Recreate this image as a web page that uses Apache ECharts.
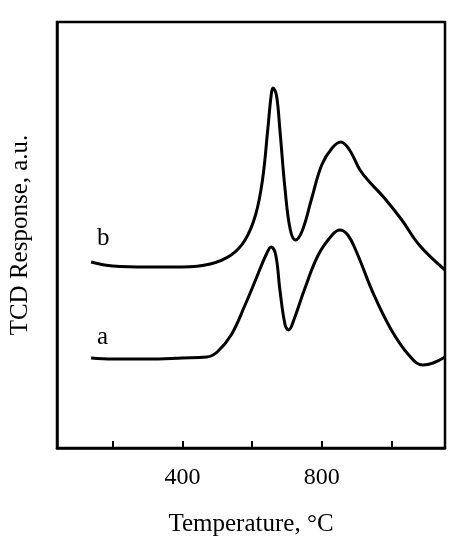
<!DOCTYPE html>
<html>
<head>
<meta charset="utf-8">
<script src="https://cdn.jsdelivr.net/npm/echarts@6/dist/echarts.min.js"></script>
<style>html,body{margin:0;padding:0;background:#fff}#c{width:453px;height:550px}</style>
</head>
<body>
<div id="c"></div>
<script>
// temperature (°C) and response (arbitrary units)
const tempA = [138,200,300,400,470,500,540,580,610,640,655,668,680,695,705,720,750,790,830,852,875,900,950,1000,1050,1090,1120,1154]
const respA = [90,89,89,90,91,96,113,143,168,193,201,193,158,123,118,128,158,193,213,218,213,196,153,118,93,83,85,91]
const tempB = [138,200,300,400,480,540,580,610,630,645,655,660,670,680,695,710,725,745,770,800,830,855,880,910,940,980,1030,1080,1154]
const respB = [186,182,181,181,184,193,208,233,268,318,353,360,353,318,258,218,208,218,248,283,300,306,298,278,265,250,228,203,178]
const tickValues = [200,400,600,800,1000]
const labelValues = [400,800]

const font = 'Liberation Serif'
const pair = (t, r) => t.map((v, i) => [v, r[i]])
const chart = echarts.init(document.getElementById('c'))
chart.setOption({
  animation: false,
  grid: {left: 57, right: 8, top: 22, bottom: 102, show: true, borderColor: '#000', borderWidth: 2.5},
  xAxis: {
    type: 'value', min: 40, max: 1154,
    name: 'Temperature, °C', nameLocation: 'middle', nameGap: 64,
    nameTextStyle: {fontFamily: font, fontSize: 25, color: '#000'},
    axisLine: {lineStyle: {color: '#000', width: 2.5}},
    axisTick: {inside: true, length: 7, customValues: tickValues, lineStyle: {color: '#000', width: 2}},
    axisLabel: {customValues: labelValues, fontFamily: font, fontSize: 24, color: '#000', margin: 18},
    splitLine: {show: false}
  },
  yAxis: {
    type: 'value', min: 0, max: 426,
    name: 'TCD Response, a.u.', nameLocation: 'middle', nameGap: 24,
    nameTextStyle: {fontFamily: font, fontSize: 25, color: '#000'},
    axisLine: {lineStyle: {color: '#000', width: 2.5}},
    axisTick: {show: false}, axisLabel: {show: false}, splitLine: {show: false}
  },
  graphic: [
    {type: 'text', left: 97, top: 325, style: {text: 'a', font: '25px ' + font, fill: '#000'}},
    {type: 'text', left: 97, top: 226, style: {text: 'b', font: '25px ' + font, fill: '#000'}}
  ],
  series: [
    {type: 'line', data: pair(tempA, respA), smooth: 0.4, showSymbol: false, lineStyle: {color: '#000', width: 3}},
    {type: 'line', data: pair(tempB, respB), smooth: 0.4, showSymbol: false, lineStyle: {color: '#000', width: 3}}
  ]
})
</script>
</body>
</html>
